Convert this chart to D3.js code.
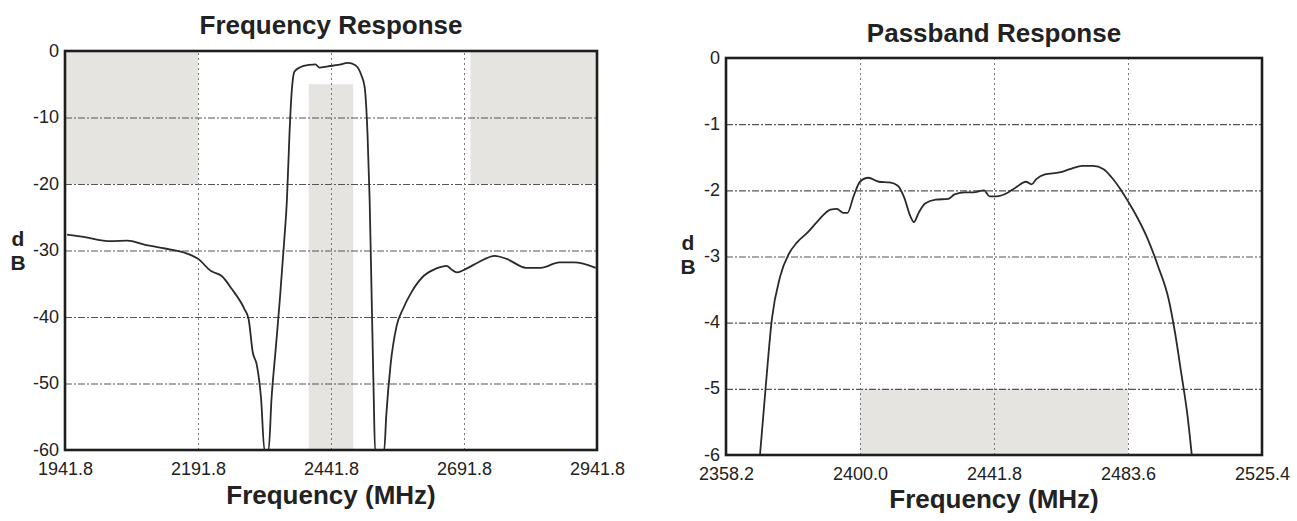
<!DOCTYPE html>
<html>
<head>
<meta charset="utf-8">
<script src="https://cdn.jsdelivr.net/npm/d3@7"></script>
<style>
  body { margin: 0; background: #fff; }
  text { font-family: "Liberation Sans", Arial, sans-serif; fill: #222; }
</style>
</head>
<body>
<div id="chart"></div>
<script>
// ---- data ----
// Frequency Response (wide span)
var fullFreq = [1945.7, 1973.2, 2028.1, 2059.4, 2090.8, 2130.0, 2165.3, 2192.8, 2216.3, 2235.9,
  2255.5, 2279.1, 2286.9, 2294.7, 2302.6, 2310.4, 2316.7, 2324.5, 2330.0, 2337.9,
  2345.7, 2353.6, 2359.0, 2363.8, 2367.7, 2373.2, 2385.0, 2400.6, 2412.4, 2420.2,
  2435.9, 2455.5, 2473.6, 2486.9, 2498.7, 2505.0, 2510.4, 2514.4, 2518.3, 2522.2,
  2524.6, 2541.8, 2545.7, 2553.6, 2565.3, 2577.1, 2592.8, 2616.3, 2639.8, 2659.4,
  2667.3, 2679.0, 2694.7, 2718.2, 2749.6, 2773.1, 2808.4, 2835.9, 2871.2, 2898.6, 2939.4];
var fullDb = [-27.6, -27.9, -28.6, -28.5, -29.1, -29.7, -30.3, -31.3, -33.1, -33.8,
  -35.8, -38.8, -40.3, -45.3, -47.3, -52.3, -60, -60, -52.3, -44.8,
  -37.3, -28.8, -22.3, -12.4, -6.4, -3.1, -2.4, -2.1, -2.0, -2.5,
  -2.3, -2.1, -1.8, -2.1, -3.6, -5.4, -12.4, -22.3, -37.3, -52.3,
  -60, -60, -54.8, -47.3, -41.3, -38.8, -36.3, -33.8, -32.7, -32.3,
  -32.8, -33.3, -32.8, -31.8, -30.8, -31.3, -32.6, -32.6, -31.8, -31.8, -32.6];
var fullXTicks = [1941.8, 2191.8, 2441.8, 2691.8, 2941.8];
var fullYTicks = [0, -10, -20, -30, -40, -50, -60];
// mask rectangles: [f start, f end, dB top, dB bottom]
var fullMasks = [[1941.8, 2191.8, 0, -20], [2704, 2941.8, 0, -20], [2400.0, 2483.6, -5, -60]];

// Passband Response (zoomed span)
var passFreq = [2368.8, 2370.5, 2372.5, 2375.1, 2377.7, 2380.3, 2383.6, 2386.9, 2390.8, 2392.8,
  2394.8, 2396.1, 2398.0, 2400.0, 2402.6, 2405.9, 2409.2, 2411.8, 2413.8, 2415.7,
  2416.8, 2418.3, 2420.3, 2423.6, 2427.5, 2429.5, 2432.8, 2435.4, 2438.7, 2440.4,
  2442.6, 2445.9, 2448.5, 2451.8, 2453.5, 2455.0, 2457.7, 2462.2, 2465.5, 2469.4,
  2472.7, 2476.0, 2478.6, 2481.2, 2483.9, 2486.5, 2489.8, 2493.0, 2496.3, 2498.3,
  2500.2, 2502.2, 2503.5];
var passDb = [-6, -5.02, -3.95, -3.30, -2.97, -2.79, -2.64, -2.46, -2.29, -2.28,
  -2.34, -2.34, -2.09, -1.87, -1.81, -1.87, -1.88, -1.93, -2.11, -2.39,
  -2.48, -2.34, -2.20, -2.14, -2.13, -2.06, -2.03, -2.03, -2.00, -2.09,
  -2.09, -2.04, -1.96, -1.87, -1.91, -1.83, -1.76, -1.73, -1.68, -1.63,
  -1.63, -1.68, -1.81, -1.98, -2.19, -2.41, -2.74, -3.15, -3.65, -4.16,
  -4.76, -5.42, -6];
var passXTicks = [2358.2, 2400.0, 2441.8, 2483.6, 2525.4];
var passYTicks = [0, -1, -2, -3, -4, -5, -6];
var passMasks = [[2400.0, 2483.6, -5, -6]];

var svg = d3.select("#chart")
  .append("svg")
  .attr("width", 1297)
  .attr("height", 521);

svg.append("rect").attr("width", 1297).attr("height", 521).attr("fill", "#fff");

// draws one plot panel
function drawPanel(cfg) {
  var x = d3.scaleLinear().domain(d3.extent(cfg.xTicks)).range(cfg.xRange);
  var y = d3.scaleLinear().domain(d3.extent(cfg.yTicks)).range([cfg.yRange[1], cfg.yRange[0]]);
  var w = cfg.xRange[1] - cfg.xRange[0];
  var h = cfg.yRange[1] - cfg.yRange[0];

  var g = svg.append("g");

  // shaded mask areas
  g.selectAll(".mask")
    .data(cfg.masks)
    .enter()
    .append("rect")
    .attr("x", d => x(d[0]))
    .attr("y", d => y(d[2]))
    .attr("width", d => x(d[1]) - x(d[0]))
    .attr("height", d => y(d[3]) - y(d[2]))
    .attr("fill", "#e6e4e1");

  // horizontal grid
  g.append("g")
    .attr("transform", `translate(${cfg.xRange[0]},0)`)
    .call(d3.axisLeft(y).tickValues(cfg.yTicks.slice(1, -1)).tickSize(-w).tickFormat(""))
    .call(a => a.select(".domain").remove())
    .selectAll("line")
    .attr("stroke", "#555")
    .attr("stroke-width", 1.1)
    .attr("stroke-dasharray", "7,2,2,2");

  // vertical grid
  g.append("g")
    .attr("transform", `translate(0,${cfg.yRange[1]})`)
    .call(d3.axisBottom(x).tickValues(cfg.xTicks.slice(1, -1)).tickSize(-h).tickFormat(""))
    .call(a => a.select(".domain").remove())
    .selectAll("line")
    .attr("stroke", "#777")
    .attr("stroke-width", 1)
    .attr("stroke-dasharray", "2,3");

  // the response curve
  var clipId = "clip" + cfg.id;
  svg.append("clipPath").attr("id", clipId)
    .append("rect")
    .attr("x", cfg.xRange[0]).attr("y", cfg.yRange[0])
    .attr("width", w).attr("height", h);

  var line = d3.line()
    .x((d, i) => x(cfg.freq[i]))
    .y(d => y(d))
    .curve(d3.curveMonotoneX);

  g.append("path")
    .datum(cfg.db)
    .attr("clip-path", `url(#${clipId})`)
    .attr("d", line)
    .attr("fill", "none")
    .attr("stroke", "#2a2a2a")
    .attr("stroke-width", 1.8);

  // frame
  g.append("rect")
    .attr("x", cfg.xRange[0]).attr("y", cfg.yRange[0])
    .attr("width", w).attr("height", h)
    .attr("fill", "none")
    .attr("stroke", "#1e1e1e")
    .attr("stroke-width", 2.6);

  // tick labels (plain hyphen minus like the original)
  var yAx = g.append("g")
    .attr("transform", `translate(${cfg.xRange[0]},0)`)
    .call(d3.axisLeft(y).tickValues(cfg.yTicks).tickSize(0).tickPadding(6).tickFormat(d => String(d)));
  yAx.select(".domain").remove();
  yAx.selectAll("text")
    .attr("dy", "0.28em")
    .style("font-size", "18px").style("font-family", "Liberation Sans, Arial, sans-serif").attr("fill", "#222");

  var xAx = g.append("g")
    .attr("transform", `translate(0,${cfg.yRange[1]})`)
    .call(d3.axisBottom(x).tickValues(cfg.xTicks).tickSize(0).tickPadding(cfg.xPad).tickFormat(d3.format(".1f")));
  xAx.select(".domain").remove();
  xAx.selectAll("text").style("font-size", "18px").style("font-family", "Liberation Sans, Arial, sans-serif").attr("fill", "#222");

  var cx = (cfg.xRange[0] + cfg.xRange[1]) / 2;

  // title
  g.append("text")
    .attr("x", cx)
    .attr("y", cfg.titleY)
    .attr("text-anchor", "middle")
    .style("font-size", "26px")
    .style("font-weight", "bold")
    .text(cfg.title);

  // x axis label
  g.append("text")
    .attr("x", cx)
    .attr("y", cfg.xLabelY)
    .attr("text-anchor", "middle")
    .style("font-size", "26px")
    .style("font-weight", "bold")
    .text("Frequency (MHz)");

  // stacked dB label
  g.append("text")
    .attr("x", cfg.dbX)
    .attr("y", cfg.dbY)
    .attr("text-anchor", "middle")
    .style("font-size", "21px")
    .style("font-weight", "bold")
    .text("d");
  g.append("text")
    .attr("x", cfg.dbX)
    .attr("y", cfg.dbY + 24)
    .attr("text-anchor", "middle")
    .style("font-size", "21px")
    .style("font-weight", "bold")
    .text("B");
}

drawPanel({
  id: "full",
  xRange: [65, 597], yRange: [51, 450],
  xTicks: fullXTicks, yTicks: fullYTicks,
  masks: fullMasks, freq: fullFreq, db: fullDb,
  title: "Frequency Response", titleY: 34, xLabelY: 504,
  xPad: 12, dbX: 18, dbY: 246
});

drawPanel({
  id: "pass",
  xRange: [726, 1262], yRange: [58, 455],
  xTicks: passXTicks, yTicks: passYTicks,
  masks: passMasks, freq: passFreq, db: passDb,
  title: "Passband Response", titleY: 42, xLabelY: 508,
  xPad: 12, dbX: 688, dbY: 250
});
</script>
</body>
</html>
